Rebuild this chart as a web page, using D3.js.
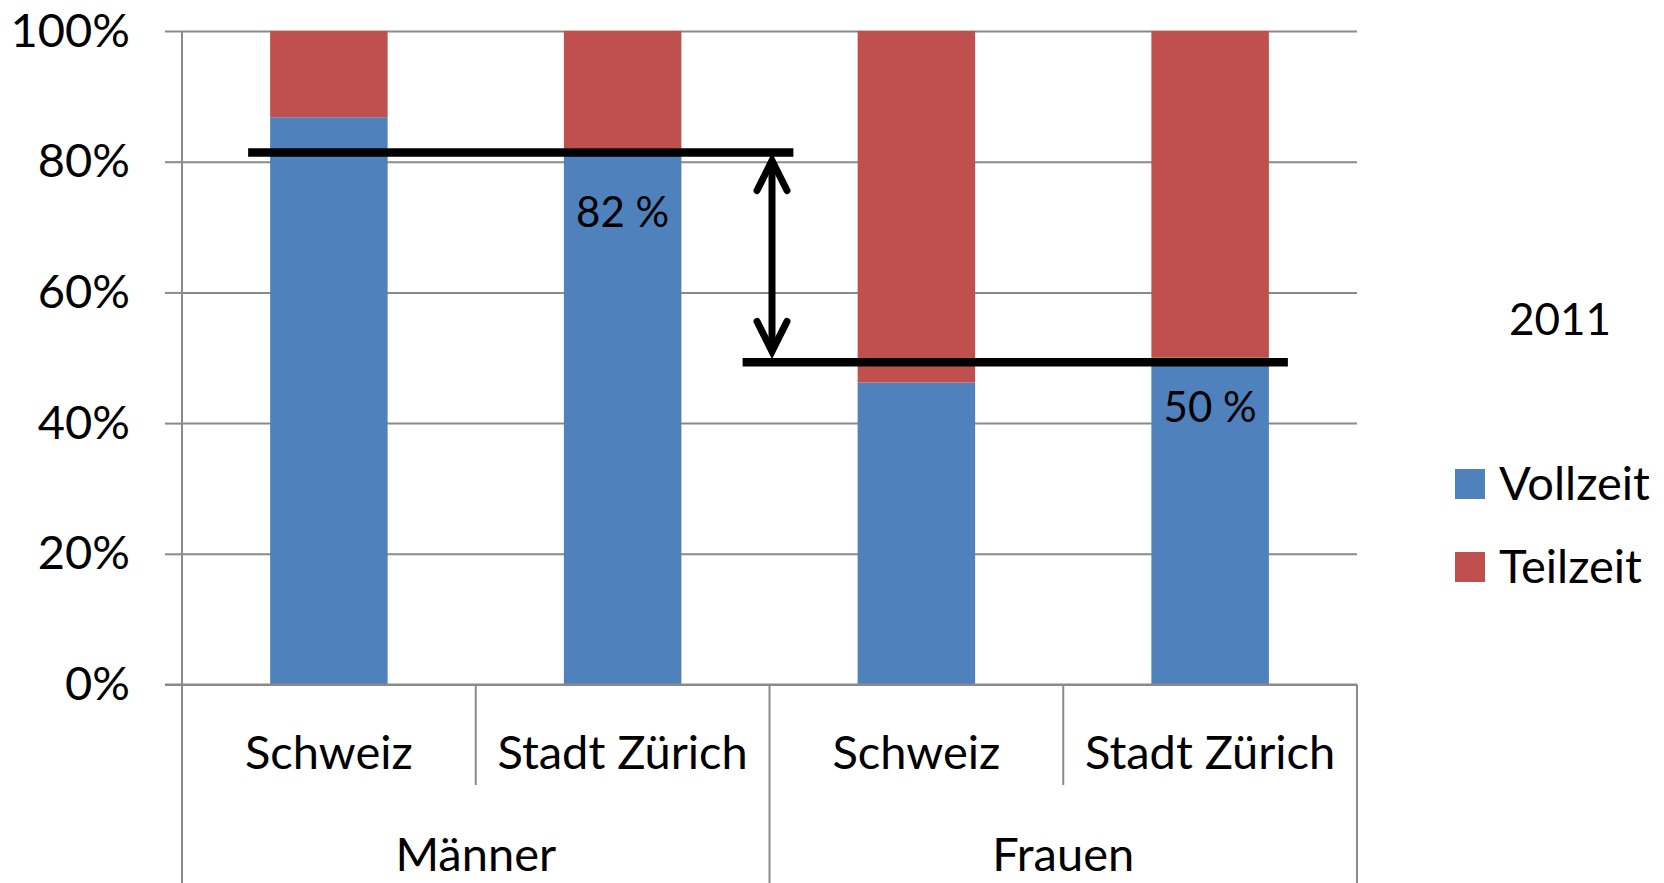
<!DOCTYPE html>
<html>
<head>
<meta charset="utf-8">
<script src="https://cdn.jsdelivr.net/npm/d3@7"></script>
<style>
  html, body { margin: 0; padding: 0; background: #fff; }
  svg { display: block; font-family: Lato, "Open Sans", sans-serif; }
</style>
</head>
<body>
<svg id="chart" width="1664" height="883"></svg>
<script>
// ---- data ----
const categories = ["Schweiz", "Stadt Zürich", "Schweiz", "Stadt Zürich"];
const groups = ["Männer", "Frauen"];
const vollzeit = [86.8, 82, 46.2, 50];
const teilzeit = [13.2, 18, 53.8, 50];
const seriesNames = ["Vollzeit", "Teilzeit"];
const yTicks = [0, 20, 40, 60, 80, 100];
const legendTitle = "2011";
const barLabels = [{ idx: 1, text: "82 %" }, { idx: 3, text: "50 %" }];
const refLines = [81.4, 49.3];

(function () {
// ---- layout ----
const W = 1664, H = 883;
const pLeft = 182, pRight = 1357, pTop = 31, pBottom = 684.5;
const colors = ["#4f81bd", "#c0504d"];
const gridColor = "#8a8a8a";

const svg = d3.select("#chart");
const x = d3.scaleBand().domain(d3.range(categories.length)).range([pLeft, pRight])
  .paddingInner(0.6).paddingOuter(0.3);
const y = d3.scaleLinear().domain([0, 100]).range([pBottom, pTop]);
const step = x.step();

// gridlines
svg.append("g")
  .attr("transform", `translate(${pLeft},0)`)
  .call(d3.axisLeft(y).tickValues(yTicks).tickSize(-(pRight - pLeft)).tickFormat(""))
  .call(g => g.select(".domain").remove())
  .call(g => g.selectAll("line").attr("stroke", gridColor).attr("stroke-width", 2));

// y axis with outward ticks and labels
svg.append("g")
  .attr("transform", `translate(${pLeft},0)`)
  .call(d3.axisLeft(y).tickValues(yTicks).tickSize(17).tickSizeOuter(0).tickPadding(35).tickFormat(d => d + "%"))
  .call(g => g.select(".domain").remove())
  .call(g => g.selectAll("line").attr("stroke", gridColor).attr("stroke-width", 2))
  .call(g => g.selectAll("text").attr("fill", "#000").attr("font-size", 47)
    .attr("font-family", "Lato, sans-serif"));

// y-axis vertical line (extends into category area)
svg.append("line").attr("x1", pLeft).attr("x2", pLeft).attr("y1", pTop).attr("y2", H)
  .attr("stroke", gridColor).attr("stroke-width", 2);

// stacked bars
const stacked = categories.map((c, i) => ({ i, v: [vollzeit[i], teilzeit[i]] }));
stacked.forEach(d => {
  let base = 0;
  d.v.forEach((val, s) => {
    svg.append("rect")
      .attr("x", x(d.i)).attr("width", x.bandwidth())
      .attr("y", y(base + val)).attr("height", y(base) - y(base + val))
      .attr("fill", colors[s]);
    base += val;
  });
});

// category axis lines
svg.append("line").attr("x1", pLeft - 17).attr("x2", pRight).attr("y1", pBottom).attr("y2", pBottom)
  .attr("stroke", gridColor).attr("stroke-width", 2);
d3.range(1, categories.length + 1).forEach(k => {
  const xx = pLeft + k * step;
  const full = (k % 2 === 0);
  svg.append("line").attr("x1", xx).attr("x2", xx).attr("y1", pBottom).attr("y2", full ? H : 785)
    .attr("stroke", gridColor).attr("stroke-width", 2);
});

// category labels
svg.append("g").selectAll("text").data(categories).join("text")
  .attr("x", (d, i) => x(i) + x.bandwidth() / 2).attr("y", 769)
  .attr("text-anchor", "middle").attr("font-size", 47).text(d => d);
svg.append("g").selectAll("text").data(groups).join("text")
  .attr("x", (d, i) => pLeft + (i * 2 + 1) * step).attr("y", 871)
  .attr("text-anchor", "middle").attr("font-size", 47).text(d => d);

// reference lines
const lineExt = [[x(0) - 22, x(1) + x.bandwidth() + 112], [x(2) - 115, x(3) + x.bandwidth() + 19]];
refLines.forEach((v, k) => {
  svg.append("line").attr("x1", lineExt[k][0]).attr("x2", lineExt[k][1])
    .attr("y1", y(v)).attr("y2", y(v)).attr("stroke", "#000").attr("stroke-width", 8.5);
});

// double arrow
const ax = 772;
const yTop = y(refLines[0]) + 8, yBot = y(refLines[1]) - 11;
svg.append("line").attr("x1", ax).attr("x2", ax).attr("y1", yTop + 4).attr("y2", yBot - 4)
  .attr("stroke", "#000").attr("stroke-width", 7);
svg.append("path")
  .attr("d", `M${ax - 15},${yTop + 30} L${ax},${yTop} L${ax + 15},${yTop + 30}`)
  .attr("fill", "none").attr("stroke", "#000").attr("stroke-width", 7)
  .attr("stroke-linecap", "round").attr("stroke-linejoin", "miter");
svg.append("path")
  .attr("d", `M${ax - 15},${yBot - 30} L${ax},${yBot} L${ax + 15},${yBot - 30}`)
  .attr("fill", "none").attr("stroke", "#000").attr("stroke-width", 7)
  .attr("stroke-linecap", "round").attr("stroke-linejoin", "miter");

// bar labels
const labelOffsets = { 1: 78, 3: 64 };
barLabels.forEach(b => {
  svg.append("text")
    .attr("x", x(b.idx) + x.bandwidth() / 2)
    .attr("y", y(vollzeit[b.idx]) + labelOffsets[b.idx])
    .attr("text-anchor", "middle").attr("font-size", 42).text(b.text);
});

// legend
svg.append("text").attr("x", 1560).attr("y", 335).attr("text-anchor", "middle")
  .attr("font-size", 44).text(legendTitle);
seriesNames.forEach((n, i) => {
  const yy = 469 + i * 83;
  svg.append("rect").attr("x", 1455).attr("y", yy).attr("width", 30).attr("height", 30)
    .attr("fill", colors[i]);
  svg.append("text").attr("x", 1499).attr("y", yy + 31).attr("font-size", 47).text(n);
});
})();
</script>
</body>
</html>
